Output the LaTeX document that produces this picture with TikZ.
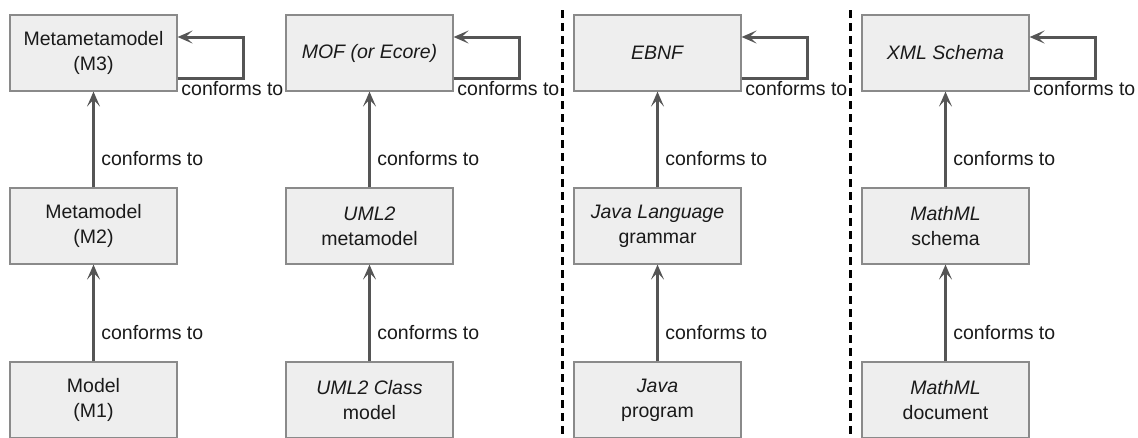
\documentclass[tikz,border=0pt]{standalone}
\usepackage{fontspec}
\setmainfont{Liberation Sans}
\usetikzlibrary{arrows.meta}
\definecolor{boxfill}{HTML}{EEEEEE}
\definecolor{boxline}{HTML}{8A8A8A}
\definecolor{arrowgray}{HTML}{555555}
\definecolor{textgray}{HTML}{1A1A1A}

\begin{document}
\begin{tikzpicture}[x=1pt, y=-1pt,
    every node/.style={font=\fontsize{19.5}{25}\selectfont, text=textgray},
    level/.style={draw=boxline, fill=boxfill, line width=1.2pt, minimum width=167pt, minimum height=76pt, align=center, inner sep=0pt},
    conforms/.style={draw=arrowgray, line width=3pt, -{Stealth[length=15pt, width=13pt, inset=7pt]}},
    separator/.style={line width=3pt, dash pattern=on 8pt off 5pt}]
     \useasboundingbox (0,0) rectangle (1138,437);
     \clip (0,0) rectangle (1138,437);

     \node[level] (m3) at (93.5,53) {Metametamodel\\(M3)};
     \node[level] (m2) at (93.5,226) {Metamodel\\(M2)};
     \node[level] (m1) at (93.5,400) {Model\\(M1)};

     \node[level] (mof) at (369.5,53) {\textit{MOF (or Ecore)}};
     \node[level] (uml) at (369.5,226) {\textit{UML2}\\metamodel};
     \node[level] (class) at (369.5,400) {\textit{UML2 Class}\\model};

     \node[level] (ebnf) at (657.5,53) {\textit{EBNF}};
     \node[level] (grammar) at (657.5,226) {\textit{Java Language}\\grammar};
     \node[level] (program) at (657.5,400) {\textit{Java}\\program};

     \node[level] (xsd) at (945.5,53) {\textit{XML Schema}};
     \node[level] (schema) at (945.5,226) {\textit{MathML}\\schema};
     \node[level] (document) at (945.5,400) {\textit{MathML}\\document};

     \draw[conforms] (m1.north) -- (m2.south) node[pos=0.3, right=3pt] {conforms to};
     \draw[conforms] (m2.north) -- (m3.south) node[pos=0.3, right=3pt] {conforms to};
     \draw[conforms] (class.north) -- (uml.south) node[pos=0.3, right=3pt] {conforms to};
     \draw[conforms] (uml.north) -- (mof.south) node[pos=0.3, right=3pt] {conforms to};
     \draw[conforms] (program.north) -- (grammar.south) node[pos=0.3, right=3pt] {conforms to};
     \draw[conforms] (grammar.north) -- (ebnf.south) node[pos=0.3, right=3pt] {conforms to};
     \draw[conforms] (document.north) -- (schema.south) node[pos=0.3, right=3pt] {conforms to};
     \draw[conforms] (schema.north) -- (xsd.south) node[pos=0.3, right=3pt] {conforms to};

     \draw[conforms] ([yshift=-25pt]m3.east) -- ++(66,0) node[pos=0.83, below=-1pt] {conforms to} |- ([yshift=16pt]m3.east);
     \draw[conforms] ([yshift=-25pt]mof.east) -- ++(66,0) node[pos=0.83, below=-1pt] {conforms to} |- ([yshift=16pt]mof.east);
     \draw[conforms] ([yshift=-25pt]ebnf.east) -- ++(66,0) node[pos=0.83, below=-1pt] {conforms to} |- ([yshift=16pt]ebnf.east);
     \draw[conforms] ([yshift=-25pt]xsd.east) -- ++(66,0) node[pos=0.83, below=-1pt] {conforms to} |- ([yshift=16pt]xsd.east);

     \draw[separator] (562,10) -- (562,437);
     \draw[separator] (850,10) -- (850,437);
    \end{tikzpicture}
\end{document}
